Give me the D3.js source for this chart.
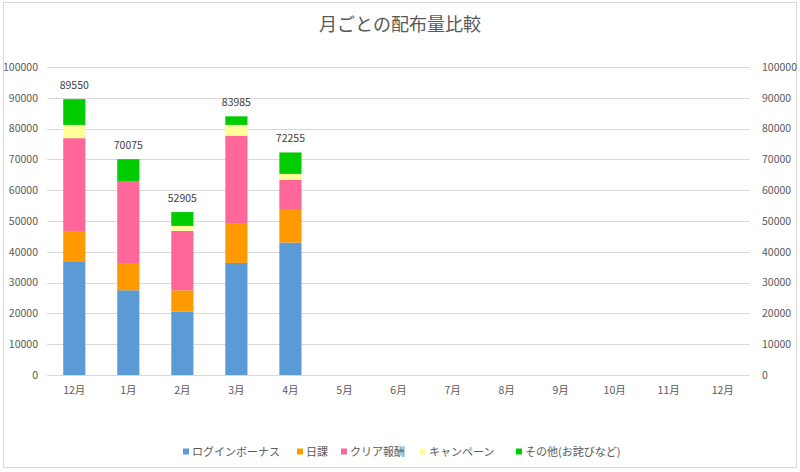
<!DOCTYPE html>
<html>
  <head>
    <meta charset="UTF-8">
    <title>月ごとの配布量比較</title>
    <style>
      * { margin: 0; padding: 0; overflow: hidden; }
      body { background: #fff; }
      text { font-family: "Noto Sans CJK JP", "Noto Sans", sans-serif; }
    </style>
    <script src="https://d3js.org/d3.v7.min.js"></script>
  </head>
  <body>
    <script type="text/javascript">
      // データ
      const months = ["12月", "1月", "2月", "3月", "4月", "5月", "6月", "7月", "8月", "9月", "10月", "11月", "12月"];
      const seriesNames = ["ログインボーナス", "日課", "クリア報酬", "キャンペーン", "その他(お詫びなど)"];
      const login    = [36700, 27500, 20600, 36400, 43000];
      const daily    = [9800, 8600, 6900, 12700, 10900];
      const clear    = [30400, 26900, 19300, 28600, 9500];
      const campaign = [4300, 0, 1600, 3500, 1900];
      const other    = [8350, 7075, 4505, 2785, 6955];
      const yTicks = [0, 10000, 20000, 30000, 40000, 50000, 60000, 70000, 80000, 90000, 100000];
      const COLOR_SET = ["#5B9BD5", "#FF9900", "#FF6699", "#FFFF99", "#00CC00"];

      const WIDTH = 800, HEIGHT = 472;
      const margin = { left: 47, right: 50, top: 67, bottom: 97 };

      const svg = d3.select("body").append("svg")
        .attr("width", WIDTH)
        .attr("height", HEIGHT);

      // 外枠
      svg.append("rect")
        .attr("x", 3.5).attr("y", 2.5)
        .attr("width", 793).attr("height", 465)
        .attr("fill", "#fff")
        .attr("stroke", "#d9d9d9");

      // テーブル形式に変換 (キーはインデックス)
      const table = months.map((m, i) => {
        const row = { idx: i, month: m };
        [login, daily, clear, campaign, other].forEach((s, k) => { row[k] = s[i] !== undefined ? s[i] : 0; });
        return row;
      });

      const x = d3.scaleBand()
        .domain(table.map(d => d.idx))
        .range([margin.left, WIDTH - margin.right])
        .paddingInner(0.59)
        .paddingOuter(0.3);

      const y = d3.scaleLinear()
        .domain([0, 100000])
        .range([HEIGHT - margin.bottom, margin.top]);

      // グリッド線
      svg.append("g")
        .selectAll("line")
        .data(yTicks)
        .enter().append("line")
        .attr("x1", margin.left)
        .attr("x2", WIDTH - margin.right)
        .attr("y1", d => Math.round(y(d)) + 0.5)
        .attr("y2", d => Math.round(y(d)) + 0.5)
        .attr("stroke", "#d9d9d9");

      const fmt = d3.format("d");

      // 左軸
      const yLeft = svg.append("g")
        .attr("transform", `translate(${margin.left - 9},0)`)
        .call(d3.axisLeft(y).tickValues(yTicks).tickFormat(fmt).tickSize(0).tickPadding(0));
      yLeft.select(".domain").remove();
      yLeft.selectAll("text").attr("fill", "#595959").attr("font-size", "10.5px");

      // 右軸
      const yRight = svg.append("g")
        .attr("transform", `translate(${WIDTH - margin.right + 12},0)`)
        .call(d3.axisRight(y).tickValues(yTicks).tickFormat(fmt).tickSize(0).tickPadding(0));
      yRight.select(".domain").remove();
      yRight.selectAll("text").attr("fill", "#595959").attr("font-size", "10.5px");

      // X軸ラベル
      const xAxis = svg.append("g")
        .attr("transform", `translate(0,${y(0) + 8})`)
        .call(d3.axisBottom(x).tickSize(0).tickPadding(4).tickFormat(i => months[i]));
      xAxis.select(".domain").remove();
      xAxis.selectAll("text").attr("fill", "#595959").attr("font-size", "10.5px");

      // 積み上げ
      const stack = d3.stack().keys([0, 1, 2, 3, 4]);
      const layers = stack(table);

      svg.append("g")
        .selectAll("g")
        .data(layers)
        .enter().append("g")
        .attr("fill", (d, k) => COLOR_SET[k])
        .selectAll("rect")
        .data(d => d.filter(p => p[1] > p[0]))
        .enter().append("rect")
        .attr("x", d => x(d.data.idx))
        .attr("width", x.bandwidth())
        .attr("y", d => y(d[1]))
        .attr("height", d => y(d[0]) - y(d[1]));

      // 合計ラベル
      const totals = table.map(d => ({ idx: d.idx, total: d[0] + d[1] + d[2] + d[3] + d[4] }))
        .filter(d => d.total > 0);
      svg.append("g")
        .selectAll("text")
        .data(totals)
        .enter().append("text")
        .attr("x", d => x(d.idx) + x.bandwidth() / 2)
        .attr("y", d => y(d.total) - 10)
        .attr("text-anchor", "middle")
        .attr("fill", "#404040")
        .attr("font-size", "10.5px")
        .text(d => d.total);

      // タイトル
      svg.append("text")
        .attr("x", WIDTH / 2)
        .attr("y", 31)
        .attr("text-anchor", "middle")
        .attr("fill", "#595959")
        .attr("font-size", "18px")
        .text("月ごとの配布量比較");

      // 凡例
      const legendX = [183, 297, 341, 420, 516];
      const legend = svg.append("g")
        .selectAll("g")
        .data(seriesNames)
        .enter().append("g")
        .attr("transform", (d, k) => `translate(${legendX[k]},452)`);
      legend.append("rect")
        .attr("x", 0).attr("y", -3.5)
        .attr("width", 6).attr("height", 6)
        .attr("fill", (d, k) => COLOR_SET[k]);
      legend.append("text")
        .attr("x", 9)
        .attr("dy", "0.35em")
        .attr("fill", "#595959")
        .attr("font-size", "11px")
        .text(d => d);
    </script>
  </body>
</html>
